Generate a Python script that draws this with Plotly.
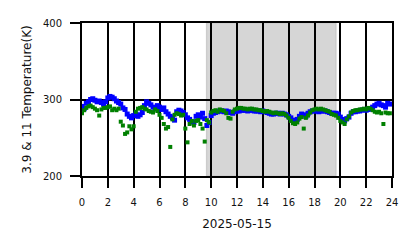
import plotly.graph_objects as go

# Hours of day, 10-minute steps
hours = [i / 6 for i in range(144)]

# 3.9 um brightness temperature (K) - blue
t39 = [
    291, 288, 295, 297, 300, 301,
    299, 297, 298, 296, 294, 297,
    302, 304, 303, 301, 298, 296,
    294, 289, 287, 281, 278, 276,
    279, 281, 278, 280, 283, 292,
    297, 295, 293, 290, 288, 292,
    290, 287, 289, 284, 281, 278,
    276, 273, 284, 286, 285, 283,
    280, 276, 274, 271, 270, 278,
    280, 277, 282, 275, 266, 270,
    279, 282, 283, 284, 285, 285,
    284, 285, 284, 283, 282, 284,
    285, 285, 286, 286, 286, 285,
    286, 286, 285, 285, 285, 284,
    285, 284, 283, 282, 281, 281,
    282, 282, 281, 282, 281, 280,
    278, 276, 273, 272, 274, 278,
    281, 280, 278, 282, 284, 285,
    285, 285, 284, 285, 285, 285,
    284, 283, 282, 282, 282, 281,
    277, 274, 272, 275, 277, 282,
    284, 284, 285, 285, 286, 287,
    286, 287, 288, 290, 292, 294,
    295, 293, 292, 290, 295, 294,
]

# 11 um brightness temperature (K) - green
t11 = [
    282, 286, 289, 291, 292, 290,
    288, 286, 279, 287, 289, 289,
    290, 291, 286, 288, 286, 288,
    271, 266, 255, 257, 265, 261,
    265, 284, 288, 289, 290, 288,
    287, 285, 284, 283, 287, 285,
    280, 276, 268, 262, 264, 238,
    274, 280, 282, 281, 279, 280,
    262, 244, 268, 272, 266, 272,
    273, 268, 262, 245, 273, 270,
    283, 285, 286, 284, 287, 286,
    285, 282, 276, 275, 284, 287,
    288, 289, 289, 288, 288, 287,
    288, 288, 287, 287, 286, 286,
    285, 284, 285, 284, 283, 282,
    283, 282, 281, 282, 281, 279,
    276, 272, 269, 268, 270, 275,
    277, 262, 276, 279, 283, 286,
    287, 288, 287, 288, 287, 286,
    285, 284, 281, 280, 279, 276,
    272, 270, 268, 274, 278, 283,
    285, 286, 286, 287, 287, 288,
    287, 289, 288, 286, 284, 283,
    284, 282, 268, 283, 282, 282,
]

x_ticks = list(range(0, 25, 2))
y_ticks = [200, 300, 400]
shade_start, shade_end = 9.65, 19.65
date_label = "2025-05-15"
y_label = "3.9 & 11 Temperature(K)"

fig = go.Figure()
fig.add_trace(go.Scatter(x=hours, y=t39, mode="markers",
                         marker=dict(symbol="square", size=5, color="blue"),
                         showlegend=False))
fig.add_trace(go.Scatter(x=hours, y=t11, mode="markers",
                         marker=dict(symbol="square", size=4, color="green"),
                         showlegend=False))

fig.add_shape(type="rect", xref="x", yref="y domain", x0=shade_start, x1=shade_end,
              y0=0, y1=1, fillcolor="#d6d6d6", line=dict(color="#cccccc", width=1.5),
              layer="below")

font = dict(family="DejaVu Sans", size=10, color="#111")
fig.update_layout(
    width=418, height=248,
    margin=dict(l=82, r=26, t=23, b=72),
    paper_bgcolor="white", plot_bgcolor="white",
    font=font,
)
fig.update_xaxes(range=[0, 24], tickvals=x_ticks, ticktext=[str(v) for v in x_ticks],
                 showgrid=True, gridcolor="black", gridwidth=2,
                 showline=True, linecolor="black", linewidth=2, mirror=True,
                 ticks="outside", ticklen=10, tickwidth=2, tickcolor="black",
                 ticklabelstandoff=6,
                 zeroline=False, title=dict(text=date_label, standoff=13))
fig.update_yaxes(range=[200, 400], tickvals=y_ticks,
                 showgrid=True, gridcolor="black", gridwidth=2,
                 showline=True, linecolor="black", linewidth=2, mirror=True,
                 ticks="outside", ticklen=10, tickwidth=2, tickcolor="black",
                 ticklabelstandoff=6,
                 zeroline=False, title=dict(text=y_label, standoff=9))

fig.write_html("out.html")
